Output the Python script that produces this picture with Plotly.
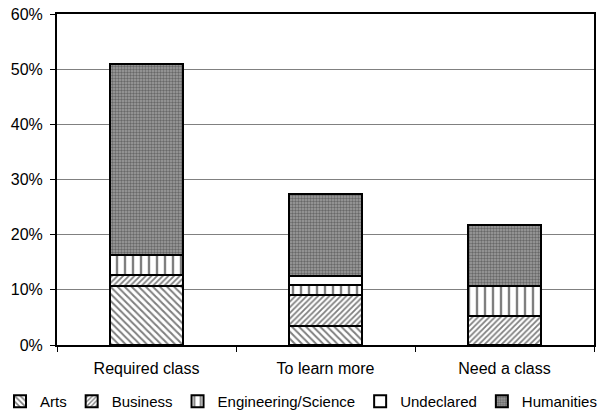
import plotly.graph_objects as go

categories = ["Required class", "To learn more", "Need a class"]

arts = [10.7, 3.5, 0.0]
business = [2.0, 5.6, 5.2]
engineering_science = [3.7, 1.8, 5.5]
undeclared = [0.0, 1.6, 0.0]
humanities = [34.6, 14.8, 11.1]

series = [
    ("Arts", arts, dict(shape="\\", size=5, solidity=0.4, fgcolor="black", bgcolor="white")),
    ("Business", business, dict(shape="/", size=4, solidity=0.45, fgcolor="black", bgcolor="white")),
    ("Engineering/Science", engineering_science, dict(shape="|", size=8, solidity=0.3, fgcolor="black", bgcolor="white")),
    ("Undeclared", undeclared, dict(shape="", fgcolor="black", bgcolor="white")),
    ("Humanities", humanities, dict(shape=".", size=3, solidity=0.5, fgcolor="#303030", bgcolor="#a0a0a0")),
]

W, H = 608, 418
# plot frame in pixels
PL, PR, PT, PB = 57, 594, 14, 346

fig = go.Figure()
for name, vals, pat in series:
    fig.add_trace(go.Bar(
        name=name,
        x=categories,
        y=[v / 100 for v in vals],
        marker=dict(color="white", line=dict(color="black", width=2), pattern=pat),
    ))

fig.update_layout(
    barmode="stack",
    bargap=0.59,
    width=W,
    height=H,
    margin=dict(l=0, r=0, t=PT, b=H - PB),
    paper_bgcolor="white",
    plot_bgcolor="rgba(0,0,0,0)",
    font=dict(family="Liberation Sans, Arial, sans-serif", size=16, color="black"),
    showlegend=True,
    legend=dict(
        orientation="h",
        x=0, xanchor="left",
        y=-(403 - PB) / (PB - PT), yanchor="middle",
        font=dict(size=15),
        itemwidth=30,
        traceorder="normal",
        borderwidth=0,
    ),
)

fig.update_yaxes(
    range=[0, 0.6],
    tickvals=[0, 0.1, 0.2, 0.3, 0.4, 0.5, 0.6],
    tickformat=".0%",
    showgrid=True,
    gridcolor="#808080",
    gridwidth=1,
    showline=True,
    linecolor="black",
    linewidth=2,
    mirror=True,
    ticks="outside",
    ticklen=5,
    tickcolor="black",
    ticklabelstandoff=4,
    zeroline=False,
    automargin=False,
)
fig.update_xaxes(
    domain=[PL / W, PR / W],
    showline=True,
    linecolor="black",
    linewidth=2,
    mirror=True,
    ticks="outside",
    tickson="boundaries",
    ticklen=5,
    tickcolor="black",
    ticklabelstandoff=8,
    showgrid=False,
    automargin=False,
)

fig.write_html("out.html")
